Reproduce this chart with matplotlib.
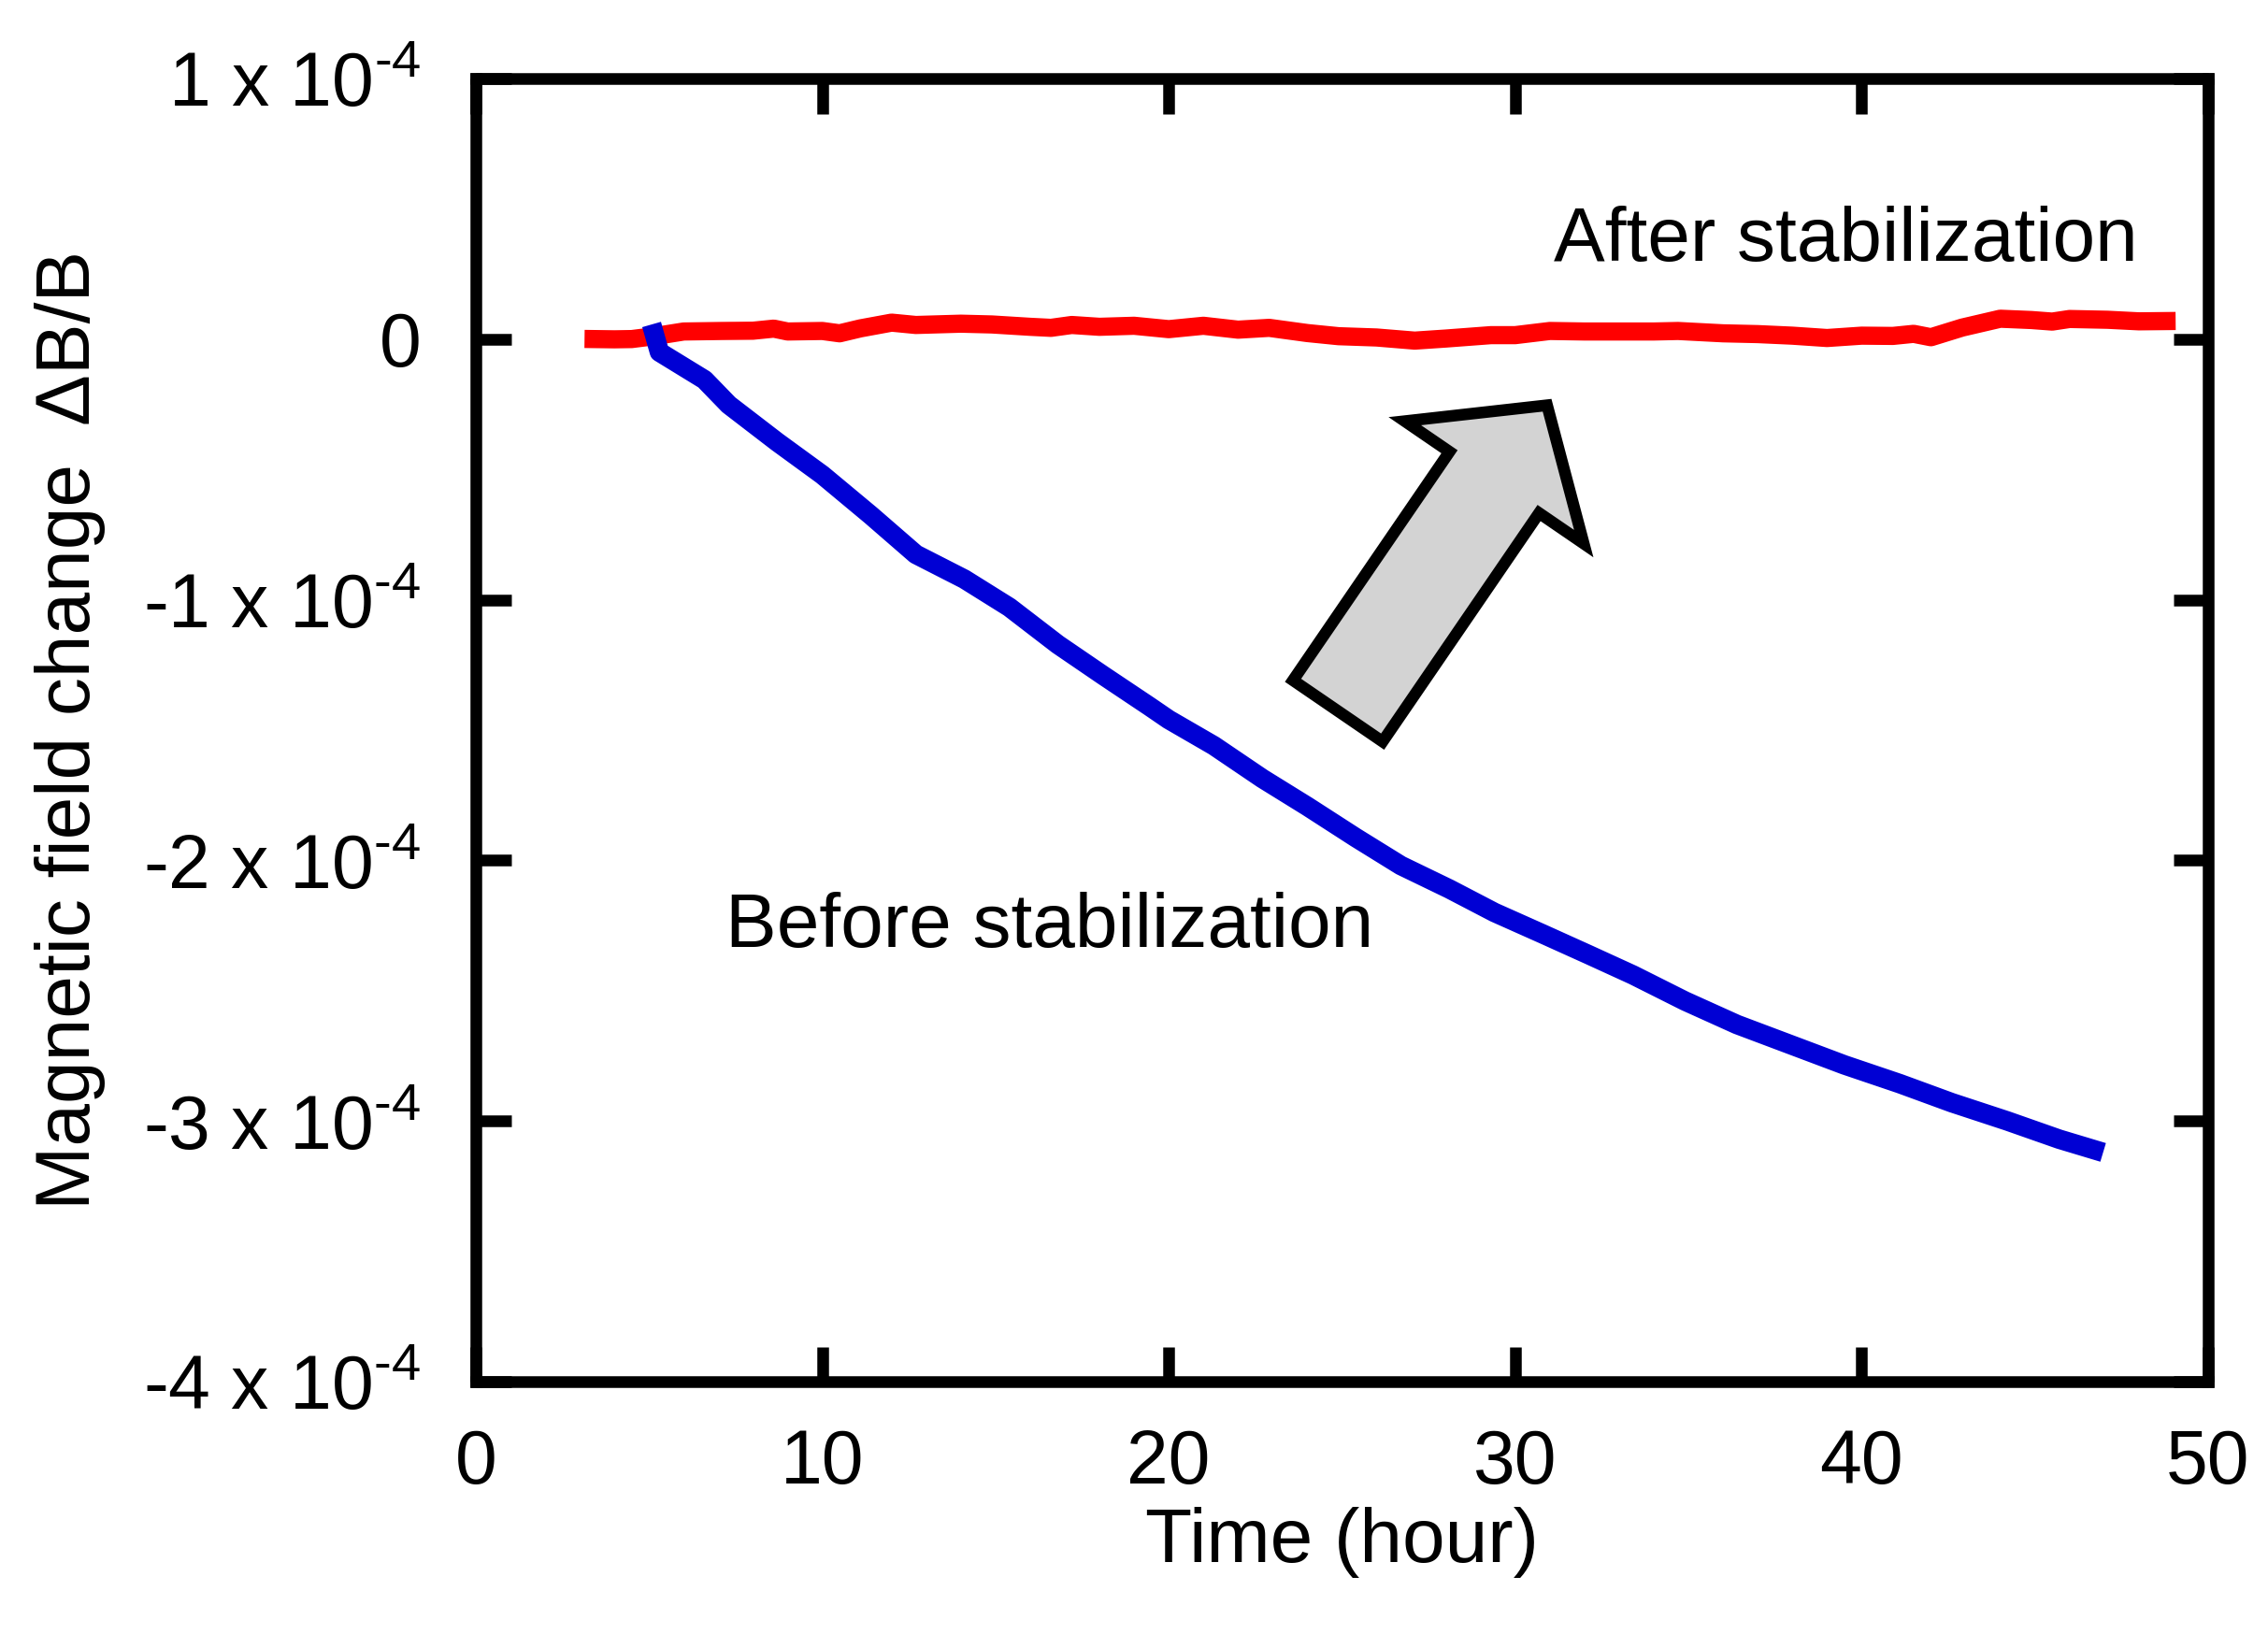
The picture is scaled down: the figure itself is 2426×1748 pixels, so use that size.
import matplotlib
matplotlib.use("Agg")
import matplotlib.pyplot as plt

plt.rcParams['font.family'] = ['Liberation Sans', 'DejaVu Sans']
plt.rcParams['mathtext.fontset'] = 'custom'
plt.rcParams['mathtext.rm'] = 'Liberation Sans'
plt.rcParams['mathtext.it'] = 'Liberation Sans:italic'
plt.rcParams['mathtext.bf'] = 'Liberation Sans:bold'

# after stabilization (time in hours, dB/B in units of 1e-5)
t_after = [3.4, 4.0, 4.5, 5.1, 6.0, 7.1, 8.0, 8.6, 9.0, 10.0, 10.5, 11.1, 12.0,
           12.7, 14.0, 14.9, 16.0, 16.6, 17.2, 18.0, 19.0, 20.0, 21.0, 22.0,
           22.9, 24.0, 24.9, 26.0, 27.1, 28.0, 29.3, 30.0, 31.0, 32.0, 34.0,
           34.7, 36.0, 37.0, 38.0, 39.0, 40.0, 40.9, 41.5, 42.0, 42.9, 44.0,
           44.9, 45.5, 46.0, 47.1, 48.0, 48.8]
v_after = [0.0, -0.01, 0.0, 0.1, 0.29, 0.31, 0.32, 0.4, 0.29, 0.31, 0.22, 0.41,
           0.63, 0.54, 0.59, 0.56, 0.47, 0.43, 0.54, 0.47, 0.51, 0.38, 0.51,
           0.36, 0.43, 0.23, 0.11, 0.06, -0.06, 0.02, 0.15, 0.15, 0.31, 0.29,
           0.29, 0.31, 0.22, 0.19, 0.13, 0.04, 0.13, 0.12, 0.20, 0.07, 0.44,
           0.78, 0.73, 0.67, 0.77, 0.74, 0.68, 0.69]

# before stabilization (dB/B in units of 1e-4)
t_before = [5.15, 5.3, 6.6, 7.3, 8.7, 10.0, 11.4, 12.7, 14.1, 15.4, 16.8, 18.1,
            19.45, 20.0, 21.3, 22.7, 24.0, 25.4, 26.7, 28.1, 29.4, 30.8, 32.1,
            33.4, 34.9, 36.4, 38.0, 39.5, 41.1, 42.6, 44.2, 45.7, 46.7]
v_before = [0.02, -0.05, -0.156, -0.252, -0.395, -0.521, -0.676, -0.826,
            -0.921, -1.029, -1.172, -1.29, -1.41, -1.46, -1.56, -1.686, -1.793,
            -1.913, -2.02, -2.11, -2.20, -2.283, -2.361, -2.44, -2.54, -2.63,
            -2.71, -2.785, -2.857, -2.93, -3.0, -3.07, -3.11]

x_ticks = [0, 10, 20, 30, 40, 50]
y_ticks = [1e-4, 0, -1e-4, -2e-4, -3e-4, -4e-4]
y_mantissa = ['1', '0', '-1', '-2', '-3', '-4']

HY = '\u2010'  # short hyphen instead of the wide math minus


def sci_label(m):
    if m == '0':
        return '0'
    m = m.replace('-', HY)
    return '$\\mathregular{' + m + '\\ x\\ 10^{' + HY + '4}}$'


y_tick_labels = [sci_label(m) for m in y_mantissa]

fig = plt.figure(figsize=(12.13, 8.74), dpi=200)
ax = fig.add_axes([0.2098, 0.1545, 0.7638, 0.7975])

ax.plot(t_after, [v * 1e-5 for v in v_after], color='#ff0000', lw=7)
ax.plot(t_before, [v * 1e-4 for v in v_before], color='#0000d4', lw=7.5)

ax.set_xlim(0, 50)
ax.set_ylim(-4e-4, 1e-4)
ax.set_xticks(x_ticks)
ax.set_yticks(y_ticks, y_tick_labels)

for s in ax.spines.values():
    s.set_linewidth(4.5)
ax.tick_params(direction='in', length=13.5, width=4.5, labelsize=29,
               top=True, right=True)
ax.tick_params(axis='x', pad=18)
ax.tick_params(axis='y', pad=21)

ax.set_xlabel('Time (hour)', fontsize=29.5)
ax.set_ylabel('Magnetic field change  \u0394B/B', fontsize=29.5)
ax.xaxis.set_label_coords(0.5, -0.096)
ax.yaxis.set_label_coords(-0.2135, 0.5)

ax.text(31.1, 0.30e-4, 'After stabilization', fontsize=29.5, va='baseline')
ax.text(7.2, -2.333e-4, 'Before stabilization', fontsize=29.5, va='baseline')

# big gray arrow
ax.annotate('', xy=(30.92, -0.254e-4), xytext=(24.88, -1.427e-4),
            arrowprops=dict(arrowstyle='simple,head_length=0.36,head_width=0.835,tail_width=0.418',
                            mutation_scale=100, fc='#d3d3d3', ec='black', lw=4.5,
                            shrinkA=0, shrinkB=0, joinstyle='miter'))

fig.savefig('out.png', dpi=200)
